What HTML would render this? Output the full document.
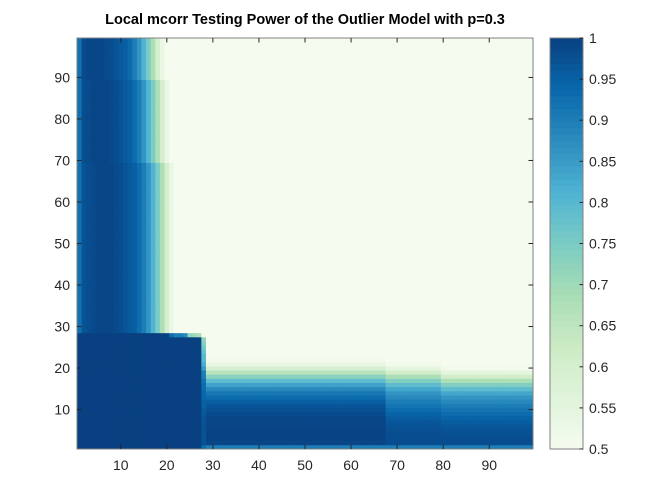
<!DOCTYPE html>
<html><head><meta charset="utf-8"><style>
body{margin:0;background:#fff;}
svg{display:block;font-family:"Liberation Sans",Arial,sans-serif;}
</style></head><body>
<svg id="chart" width="672" height="504" viewBox="0 0 672 504">
<rect width="672" height="504" fill="#fff"/>
<text x="305" y="24" text-anchor="middle" font-size="14.5" font-weight="bold" fill="#000">Local mcorr Testing Power of the Outlier Model with p=0.3</text>
<g id="cells"></g>
<g id="axes"></g>
<g id="cbar"></g>
</svg>
<script>
// ---- data ----
const xCount = 99, yCount = 99;
const xTicks = [10,20,30,40,50,60,70,80,90];
const yTicks = [10,20,30,40,50,60,70,80,90];
const cbTicks = [0.5,0.55,0.6,0.65,0.7,0.75,0.8,0.85,0.9,0.95,1];
const cbLabels = ["0.5","0.55","0.6","0.65","0.7","0.75","0.8","0.85","0.9","0.95","1"];
// upper vertical band: power vs column x=1..22
const colProfile = [0.92,0.97,0.98,0.985,0.99,0.99,0.99,0.99,0.985,0.98,0.97,0.96,0.95,0.93,0.9,0.86,0.81,0.75,0.68,0.6,0.53,0.5];
// shift of band edge per y-decade (index floor(y/10))
const colShift = [0,0,0,0,0,0,0,-1,-1,-2];
// lower horizontal band: power vs row y=1..22
const rowProfile = [0.9,0.99,0.995,0.995,0.995,0.99,0.99,0.99,0.985,0.975,0.965,0.95,0.93,0.91,0.88,0.84,0.79,0.73,0.66,0.59,0.54,0.51];
const rowProfileRight = [0.9,0.98,0.98,0.98,0.975,0.97,0.965,0.955,0.945,0.93,0.915,0.9,0.88,0.86,0.83,0.79,0.74,0.68,0.61,0.55,0.51,0.5];
const rowShift = [0,0,0,0,0,0,0,0,-1,-1];
// square block
const blockSize = 27;
const row28 = [1,1,1,1,1,1,1,1,1,1,1,1,1,1,1,1,1,1,1,1,0.93,0.9,0.9,0.88,0.72,0.7,0.68];
const col28 = [0.93,0.97,0.97,0.97,0.97,0.97,0.97,0.97,0.96,0.96,0.95,0.95,0.94,0.94,0.93,0.93,0.92,0.9,0.9,0.85,0.82,0.8,0.8,0.78,0.76,0.74,0.72];
const gnbu = ["#f5fbef","#e0f3db","#ccebc5","#a8ddb5","#7bccc4","#4eb3d3","#2b8cbe","#0868ac","#084081"];

// ---- geometry ----
const PL=77,PR=533,PT=38,PB=449;
const xs = v => PL + (v-0.5)*(PR-PL)/xCount;
const ys = v => PB - (v-0.5)*(PB-PT)/yCount;
const NS="http://www.w3.org/2000/svg";
function hex(h){return [1,3,5].map(i=>parseInt(h.substr(i,2),16));}
function color(p){
  let t=Math.max(0,Math.min(1,(p-0.5)/0.5))*(gnbu.length-1);
  let i=Math.min(gnbu.length-2,Math.floor(t)),f=t-i;
  let a=hex(gnbu[i]),b=hex(gnbu[i+1]);
  return "rgb("+a.map((c,k)=>Math.round(c+(b[k]-c)*f)).join(",")+")";
}
function prof(arr,i){ if(i<1) return arr[0]; if(i>arr.length) return 0.5; return arr[i-1]; }
function power(x,y){
  if(y<=blockSize && x<=blockSize) return 1;
  if(y===blockSize+1 && x<=row28.length) return row28[x-1];
  if(x===blockSize+1 && y<=col28.length) return col28[y-1];
  let v=0.5;
  if(y>blockSize){ const s=colShift[Math.min(9,Math.floor(y/10))]; v=Math.max(v,x===1?colProfile[0]:prof(colProfile,Math.max(2,x-s))); }
  if(x>blockSize+1){ const s=rowShift[Math.min(9,Math.floor(x/10))]; const pr = x>=68?rowProfileRight:rowProfile; v=Math.max(v,y===1?pr[0]:prof(pr,Math.max(2,y-s))); }
  return v;
}
const cells=document.getElementById('cells');
const cw=(PR-PL)/xCount, ch=(PB-PT)/yCount;
for(let x=1;x<=xCount;x++){for(let y=1;y<=yCount;y++){
  const r=document.createElementNS(NS,'rect');
  r.setAttribute('x',xs(x-0.5));r.setAttribute('y',ys(y+0.5));
  r.setAttribute('width',cw+0.4);r.setAttribute('height',ch+0.4);
  r.setAttribute('fill',color(power(x,y)));
  
  
  cells.appendChild(r);
}}
const axes=document.getElementById('axes');
function el(tag,attrs,parent,text){const e=document.createElementNS(NS,tag);for(const k in attrs)e.setAttribute(k,attrs[k]);if(text!==undefined)e.textContent=text;parent.appendChild(e);return e;}
const frame=el('rect',{x:PL,y:PT,width:PR-PL,height:PB-PT,fill:'none',stroke:'#808080','stroke-width':1},axes);


xTicks.forEach(t=>{
  const X=xs(t);
  const a=el('line',{x1:X,x2:X,y1:PB,y2:PB-4.5,stroke:'#262626'},axes);
  
  
  const b=el('line',{x1:X,x2:X,y1:PT,y2:PT+4.5,stroke:'#262626'},axes);
  
  
  const l=el('text',{x:X,y:PB+21,'text-anchor':'middle','font-size':14,fill:'#262626'},axes,String(t));
  
  
});
yTicks.forEach(t=>{
  const Y=ys(t);
  const a=el('line',{x1:PL,x2:PL+4.5,y1:Y,y2:Y,stroke:'#262626'},axes);
  
  
  const b=el('line',{x1:PR,x2:PR-4.5,y1:Y,y2:Y,stroke:'#262626'},axes);
  
  
  const l=el('text',{x:PL-7,y:Y+5,'text-anchor':'end','font-size':14,fill:'#262626'},axes,String(t));
  
  
});
// colorbar
const CL=550,CR=583;
const cb=document.getElementById('cbar');
const cy=v=>PB-(v-0.5)/0.5*(PB-PT);
for(let i=0;i<64;i++){
  const v0=0.5+i/64*0.5;
  const r=el('rect',{x:CL,y:cy(v0+0.5/64)-0.3,width:CR-CL,height:(PB-PT)/64+0.6,fill:color(v0+0.25/64)},cb);
  
  
}
const cf=el('rect',{x:CL,y:PT,width:CR-CL,height:PB-PT,fill:'none',stroke:'#808080'},cb);


cbTicks.forEach((t,i)=>{
  const Y=cy(t);
  const a=el('line',{x1:CR,x2:CR-3.5,y1:Y,y2:Y,stroke:'#262626'},cb);
  
  
  const l=el('text',{x:CR+6,y:Y+5,'font-size':14,fill:'#262626'},cb,cbLabels[i]);
  
  
});
</script>
</body></html>
